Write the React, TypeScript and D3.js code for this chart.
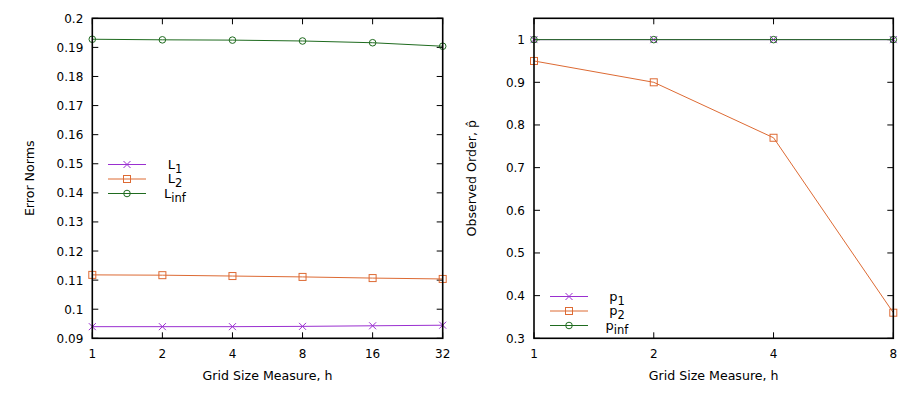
import React, { useEffect, useRef } from 'react';
import * as d3 from 'd3';

// left panel: error norms vs grid size
const gridLeft = [1, 2, 4, 8, 16, 32];
const normL1 = [0.094, 0.094, 0.094, 0.0941, 0.0943, 0.0945];
const normL2 = [0.1118, 0.1117, 0.1114, 0.1111, 0.1107, 0.1104];
const normLinf = [0.1928, 0.1926, 0.1925, 0.1922, 0.1916, 0.1904];
const yTicksLeft = [0.09, 0.1, 0.11, 0.12, 0.13, 0.14, 0.15, 0.16, 0.17, 0.18, 0.19, 0.2];

// right panel: observed order vs grid size
const gridRight = [1, 2, 4, 8];
const orderP1 = [1, 1, 1, 1];
const orderP2 = [0.95, 0.9, 0.77, 0.36];
const orderPinf = [1, 1, 1, 1];
const yTicksRight = [0.3, 0.4, 0.5, 0.6, 0.7, 0.8, 0.9, 1];

const PURPLE = '#9a2fd0';
const ORANGE = '#dd6a33';
const GREEN = '#1f6b1f';
const FONT = '"DejaVu Sans", sans-serif';

type Series = { name: string; sub: string; values: number[]; color: string; marker: string };

const drawPanel = (svg, opts) => {
  const { x0, x1, y0, y1, grid, yDomain, yTicks, series, yLabel, legendX, legendY } = opts;

  const x = d3.scaleLog().base(2).domain([grid[0], grid[grid.length - 1]]).range([x0, x1]);
  const y = d3.scaleLinear().domain(yDomain).range([y1, y0]);

  const g = svg.append('g');
  const tick = 6;

  // y ticks, mirrored on the right side
  yTicks.forEach((t) => {
    const yy = y(t);
    g.append('line').attr('x1', x0).attr('x2', x0 + tick).attr('y1', yy).attr('y2', yy).attr('stroke', '#000');
    g.append('line').attr('x1', x1).attr('x2', x1 - tick).attr('y1', yy).attr('y2', yy).attr('stroke', '#000');
    g.append('text')
      .attr('x', x0 - 9)
      .attr('y', yy + 4.5)
      .attr('text-anchor', 'end')
      .attr('font-family', FONT)
      .attr('font-size', 12)
      .text(d3.format('~g')(t));
  });

  // x ticks, mirrored on top
  grid.forEach((t) => {
    const xx = x(t);
    g.append('line').attr('x1', xx).attr('x2', xx).attr('y1', y1).attr('y2', y1 - tick).attr('stroke', '#000');
    g.append('line').attr('x1', xx).attr('x2', xx).attr('y1', y0).attr('y2', y0 + tick).attr('stroke', '#000');
    g.append('text')
      .attr('x', xx)
      .attr('y', y1 + 20)
      .attr('text-anchor', 'middle')
      .attr('font-family', FONT)
      .attr('font-size', 12)
      .text(String(t));
  });

  const line = d3
    .line()
    .x((d, i) => x(grid[i]))
    .y((d) => y(d));

  const marker = (sel, kind, cx, cy, color) => {
    if (kind === 'x') {
      sel.append('path')
        .attr('d', `M${cx - 3.5},${cy - 3.5}L${cx + 3.5},${cy + 3.5}M${cx - 3.5},${cy + 3.5}L${cx + 3.5},${cy - 3.5}`)
        .attr('stroke', color).attr('fill', 'none');
    } else if (kind === 'square') {
      sel.append('rect')
        .attr('x', cx - 3.5).attr('y', cy - 3.5).attr('width', 7).attr('height', 7)
        .attr('stroke', color).attr('fill', 'none');
    } else {
      sel.append('circle')
        .attr('cx', cx).attr('cy', cy).attr('r', 3.3)
        .attr('stroke', color).attr('fill', 'none');
    }
  };

  series.forEach((s) => {
    g.append('path')
      .attr('d', line(s.values))
      .attr('fill', 'none')
      .attr('stroke', s.color)
      .attr('stroke-width', 1);
    s.values.forEach((v, i) => marker(g, s.marker, x(grid[i]), y(v), s.color));
  });

  // frame
  g.append('rect')
    .attr('x', x0).attr('y', y0).attr('width', x1 - x0).attr('height', y1 - y0)
    .attr('fill', 'none').attr('stroke', '#000').attr('stroke-width', 1.6);

  // legend
  series.forEach((s, i) => {
    const ly = legendY + i * 14.5;
    g.append('line')
      .attr('x1', legendX).attr('x2', legendX + 38)
      .attr('y1', ly).attr('y2', ly)
      .attr('stroke', s.color);
    marker(g, s.marker, legendX + 19, ly, s.color);
    const t = g.append('text')
      .attr('x', legendX + 67)
      .attr('y', ly + 4)
      .attr('text-anchor', 'middle')
      .attr('font-family', FONT)
      .attr('font-size', 13);
    t.append('tspan').text(s.name);
    t.append('tspan').attr('dy', 4).attr('font-size', 11.5).text(s.sub);
  });

  // axis labels
  g.append('text')
    .attr('x', (x0 + x1) / 2)
    .attr('y', y1 + 42)
    .attr('text-anchor', 'middle')
    .attr('font-family', FONT)
    .attr('font-size', 12.6)
    .text('Grid Size Measure, h');

  g.append('text')
    .attr('transform', `translate(${x0 - 58},${(y0 + y1) / 2}) rotate(-90)`)
    .attr('text-anchor', 'middle')
    .attr('font-family', FONT)
    .attr('font-size', 12.6)
    .text(yLabel);
};

const App = () => {
  const svgRef = useRef(null);

  useEffect(() => {
    const svg = d3.select(svgRef.current);
    svg.selectAll('*').remove();

    const left: Series[] = [
      { name: 'L', sub: '1', values: normL1, color: PURPLE, marker: 'x' },
      { name: 'L', sub: '2', values: normL2, color: ORANGE, marker: 'square' },
      { name: 'L', sub: 'inf', values: normLinf, color: GREEN, marker: 'circle' },
    ];
    const right: Series[] = [
      { name: 'p', sub: '1', values: orderP1, color: PURPLE, marker: 'x' },
      { name: 'p', sub: '2', values: orderP2, color: ORANGE, marker: 'square' },
      { name: 'p', sub: 'inf', values: orderPinf, color: GREEN, marker: 'circle' },
    ];

    drawPanel(svg, {
      x0: 92.3, x1: 442.7, y0: 18.3, y1: 338.3,
      grid: gridLeft, yDomain: [0.09, 0.2], yTicks: yTicksLeft,
      series: left, yLabel: 'Error Norms', legendX: 108, legendY: 164.5,
    });
    drawPanel(svg, {
      x0: 534, x1: 893.3, y0: 18.3, y1: 338.3,
      grid: gridRight, yDomain: [0.3, 1.05], yTicks: yTicksRight,
      series: right, yLabel: 'Observed Order, p\u0302', legendX: 550, legendY: 296.5,
    });
  }, []);

  return (
    <svg
      ref={svgRef}
      width={918}
      height={393}
      style={{ position: 'absolute', left: 0, top: 0, background: '#fff' }}
    ></svg>
  );
};

export default App;
